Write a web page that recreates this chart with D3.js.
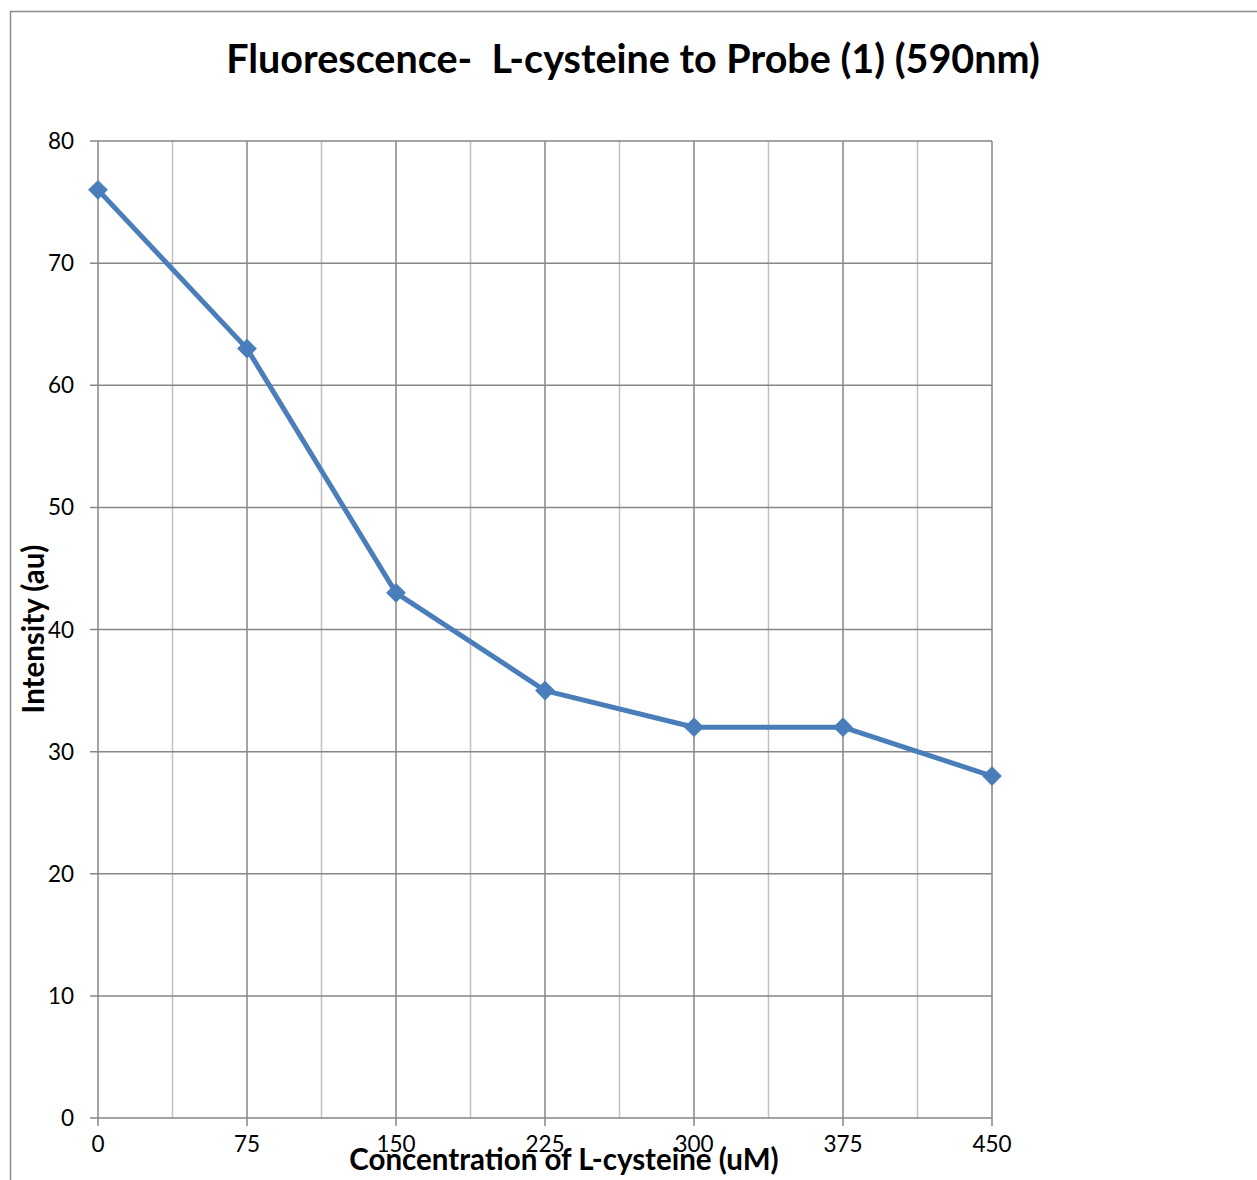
<!DOCTYPE html>
<html><head><meta charset="utf-8">
<script src="https://cdn.jsdelivr.net/npm/d3@7"></script>
<style>body{margin:0;background:#fff}svg{display:block}</style>
</head><body>
<script>
const concentrations = [0, 75, 150, 225, 300, 375, 450];
const intensities = [76, 63, 43, 35, 32, 32, 28];
const xTicks = [0, 75, 150, 225, 300, 375, 450];
const xMinorTicks = [37.5, 112.5, 187.5, 262.5, 337.5, 412.5];
const yTicks = [0, 10, 20, 30, 40, 50, 60, 70, 80];
const titleText = "Fluorescence-  L-cysteine to Probe (1) (590nm)";
const xLabel = "Concentration of L-cysteine (uM)";
const yLabel = "Intensity (au)";

(function () {
const W = 1257, H = 1180;
const font = "Lato, 'Open Sans', sans-serif";
const svg = d3.select("body").append("svg").attr("width", W).attr("height", H);

svg.append("rect").attr("x", 10.5).attr("y", 11.5).attr("width", 1300).attr("height", 1300)
  .attr("fill", "none").attr("stroke", "#8c8c8c").attr("stroke-width", 1.5);

const pL = 98, pR = 992, pT = 141, pB = 1118;
const x = d3.scaleLinear().domain([0, 450]).range([pL, pR]);
const y = d3.scaleLinear().domain([0, 80]).range([pB, pT]);

svg.append("g").selectAll("line").data(xMinorTicks).join("line")
  .attr("x1", d => x(d)).attr("x2", d => x(d)).attr("y1", pT).attr("y2", pB)
  .attr("stroke", "#c0c0c0").attr("stroke-width", 1.5);
svg.append("g").selectAll("line").data(xTicks).join("line")
  .attr("x1", d => x(d)).attr("x2", d => x(d)).attr("y1", pT).attr("y2", pB + 8)
  .attr("stroke", "#868686").attr("stroke-width", 1.5);
svg.append("g").selectAll("line").data(yTicks).join("line")
  .attr("x1", pL - 8).attr("x2", pR).attr("y1", d => y(d)).attr("y2", d => y(d))
  .attr("stroke", "#868686").attr("stroke-width", 1.5);

svg.append("g").selectAll("text").data(yTicks).join("text")
  .attr("x", 74).attr("y", d => y(d)).attr("dy", "0.36em").attr("text-anchor", "end")
  .attr("font-family", font).attr("font-size", 22.5).attr("fill", "#000").text(d => d);
svg.append("g").selectAll("text").data(xTicks).join("text")
  .attr("x", d => x(d)).attr("y", 1152).attr("text-anchor", "middle")
  .attr("font-family", font).attr("font-size", 22.5).attr("fill", "#000").text(d => d);

const line = d3.line().x((d, i) => x(concentrations[i])).y(d => y(d));
svg.append("path").datum(intensities).attr("d", line)
  .attr("fill", "none").attr("stroke", "#4a7ebb").attr("stroke-width", 5).attr("stroke-linejoin", "round");
svg.append("g").selectAll("path").data(intensities).join("path")
  .attr("transform", (d, i) => `translate(${x(concentrations[i])},${y(d)}) rotate(45)`)
  .attr("d", "M-6.5,-6.5H6.5V6.5H-6.5Z").attr("fill", "#4a7ebb").attr("stroke", "#4a7ebb").attr("stroke-width", 1);

svg.append("text").attr("x", 633).attr("y", 73).attr("text-anchor", "middle")
  .attr("font-family", font).attr("font-weight", "bold").attr("font-size", 39.5).attr("fill", "#000")
  .style("white-space", "pre").text(titleText);
svg.append("text").attr("x", 564).attr("y", 1170).attr("text-anchor", "middle")
  .attr("font-family", font).attr("font-weight", "bold").attr("font-size", 29.5).attr("fill", "#000").text(xLabel);
svg.append("text").attr("transform", "translate(44,629) rotate(-90)").attr("text-anchor", "middle")
  .attr("font-family", font).attr("font-weight", "bold").attr("font-size", 29.5).attr("fill", "#000").text(yLabel);
})();
</script>
</body></html>
